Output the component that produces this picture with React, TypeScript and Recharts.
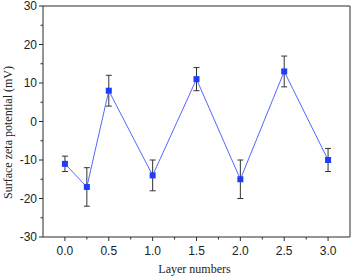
import {
  LineChart,
  Line,
  XAxis,
  YAxis,
  ErrorBar,
  ReferenceLine,
} from "recharts";

const layers = [0, 0.25, 0.5, 1.0, 1.5, 2.0, 2.5, 3.0];
const zeta = [-11, -17, 8, -14, 11, -15, 13, -10];
const zetaErr = [2, 5, 4, 4, 3, 5, 4, 3];

const xTicks = [0, 0.25, 0.5, 0.75, 1, 1.25, 1.5, 1.75, 2, 2.25, 2.5, 2.75, 3];
const yTicks = [-30, -25, -20, -15, -10, -5, 0, 5, 10, 15, 20, 25, 30];

const data = layers.map((l, i) => ({ layer: l, zeta: zeta[i], err: zetaErr[i] }));

const AXIS = "#2b2b2b";
const TICK_FONT = "'Liberation Sans', Arial, sans-serif";
const LABEL_FONT = "'Liberation Serif', 'Times New Roman', serif";

const XTick = (props: any) => {
  const { x, y, payload } = props;
  const major = Math.abs(payload.value * 2 - Math.round(payload.value * 2)) < 1e-6;
  return (
    <g>
      <line x1={x} x2={x} y1={y} y2={y + (major ? 4 : 2.5)} stroke={AXIS} />
      {major && (
        <text x={x} y={y + 18} textAnchor="middle" fontSize={12} fontFamily={TICK_FONT} fill="#222">
          {payload.value.toFixed(1)}
        </text>
      )}
    </g>
  );
};

const YTick = (props: any) => {
  const { x, y, payload } = props;
  const major = payload.value % 10 === 0;
  return (
    <g>
      <line x1={x} x2={x - (major ? 4 : 2.5)} y1={y} y2={y} stroke={AXIS} />
      {major && (
        <text x={x - 6} y={y + 4} textAnchor="end" fontSize={12} fontFamily={TICK_FONT} fill="#222">
          {payload.value}
        </text>
      )}
    </g>
  );
};

const YLabel = (props: any) => {
  const vb = props.viewBox;
  const cx = vb.x + 8;
  const cy = vb.y + vb.height / 2 + 11;
  return (
    <text
      x={cx}
      y={cy}
      transform={`rotate(-90 ${cx} ${cy})`}
      textAnchor="middle"
      dominantBaseline="central"
      fontSize={12}
      fontFamily={LABEL_FONT}
      fill="#222"
    >
      Surface zeta potential (mV)
    </text>
  );
};

const SquareDot = (props: any) => {
  const { cx, cy, index } = props;
  return <rect key={`dot-${index}`} x={cx - 3} y={cy - 3} width={6} height={6} fill="#1d3cff" />;
};

export default function App() {
  return (
    <div style={{ position: "absolute", left: 0, top: 0, background: "#fff" }}>
      <LineChart width={354} height={278} data={data} margin={{ top: 6, right: 4, left: 0, bottom: 0 }}>
        <XAxis
          dataKey="layer"
          type="number"
          domain={[-0.25, 3.25]}
          ticks={xTicks}
          interval={0}
          height={41}
          tickSize={0}
          tickMargin={0}
          tickLine={false}
          axisLine={{ stroke: AXIS }}
          tick={<XTick />}
          label={{
            value: "Layer numbers",
            position: "insideBottom",
            offset: 5,
            dx: -2,
            fontSize: 12,
            fontFamily: LABEL_FONT,
            fill: "#222",
          }}
        />
        <YAxis
          type="number"
          domain={[-30, 30]}
          ticks={yTicks}
          interval={0}
          width={43}
          tickSize={0}
          tickMargin={0}
          tickLine={false}
          axisLine={{ stroke: AXIS }}
          tick={<YTick />}
          label={<YLabel />}
        />
        <ReferenceLine y={30} stroke={AXIS} />
        <ReferenceLine x={3.25} stroke={AXIS} />
        <Line
          dataKey="zeta"
          stroke="#5566ff"
          strokeWidth={1}
          dot={SquareDot}
          activeDot={false}
          isAnimationActive={false}
        >
          <ErrorBar dataKey="err" width={3} stroke="#333" strokeWidth={1} direction="y" isAnimationActive={false} />
        </Line>
      </LineChart>
    </div>
  );
}
